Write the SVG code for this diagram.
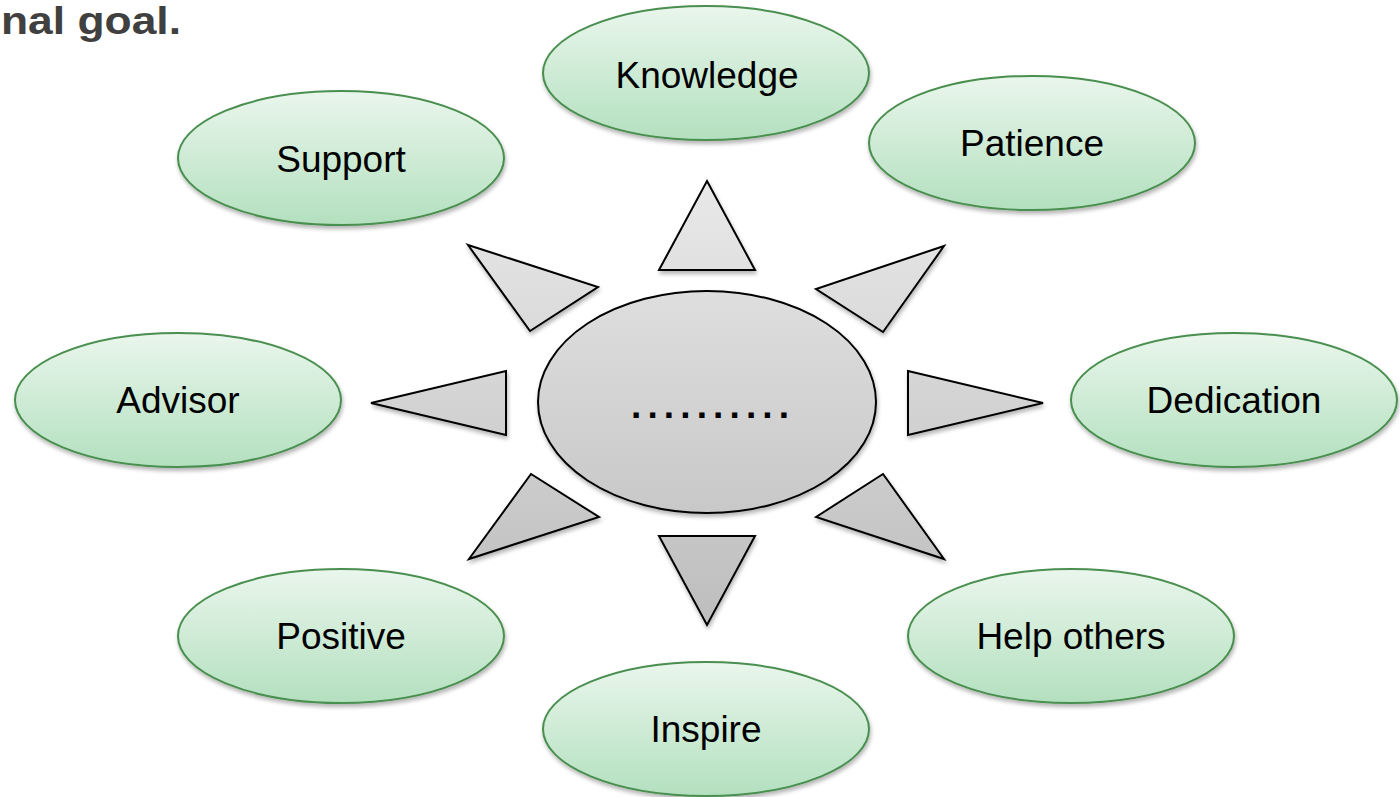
<svg xmlns="http://www.w3.org/2000/svg" width="1400" height="797" viewBox="0 0 1400 797">
<defs>
<linearGradient id="gGreen" x1="0" y1="0" x2="0" y2="1">
<stop offset="0" stop-color="#eaf6ec"/>
<stop offset="1" stop-color="#b3e0bf"/>
</linearGradient>
<linearGradient id="gGrey" gradientUnits="userSpaceOnUse" x1="0" y1="180" x2="0" y2="625">
<stop offset="0" stop-color="#e9e9e9"/>
<stop offset="1" stop-color="#bdbdbd"/>
</linearGradient>
<filter id="sh" x="-10%" y="-10%" width="125%" height="130%">
<feGaussianBlur in="SourceAlpha" stdDeviation="2"/>
<feOffset dx="1" dy="3" result="b"/>
<feComponentTransfer><feFuncA type="linear" slope="0.3"/></feComponentTransfer>
<feMerge><feMergeNode/><feMergeNode in="SourceGraphic"/></feMerge>
</filter>
<style>
.leaf{fill:url(#gGreen);stroke:#4a8f4f;stroke-width:2;filter:url(#sh)}
.ray{fill:url(#gGrey);stroke:#000;stroke-width:2;stroke-linejoin:miter;filter:url(#sh)}
.lbl{font-family:"Liberation Sans",Arial,sans-serif;font-size:37px;fill:#000;text-anchor:middle}
</style>
</defs>
<rect width="1400" height="797" fill="#fff"/>
<text x="1" y="34" font-family="'Liberation Sans',Arial,sans-serif" font-weight="bold" font-size="38" fill="#404040" textLength="180" lengthAdjust="spacingAndGlyphs">nal goal.</text>

<g id="connectors">
<polygon class="ray" points="707,181 755,270 659,270"/>
<polygon class="ray" points="944,246 816,289 883,332"/>
<polygon class="ray" points="468,245 598,287 530,331"/>
<polygon class="ray" points="908,371 1043,403 908,435"/>
<polygon class="ray" points="371,403 506,371 506,435"/>
<polygon class="ray" points="816,517 883,474 944,559"/>
<polygon class="ray" points="469,559 531,474 599,517"/>
<polygon class="ray" points="659,536 755,536 707,625"/>
</g>

<g id="center">
<ellipse cx="707" cy="402" rx="169" ry="111" fill="url(#gGrey)" stroke="#000" stroke-width="2" filter="url(#sh)"/>
<text class="lbl" x="710" y="418" font-weight="bold" textLength="158" lengthAdjust="spacing">..........</text>
</g>

<g id="knowledge"><ellipse class="leaf" cx="706" cy="73" rx="163" ry="67"/><text class="lbl" x="707" y="88">Knowledge</text></g>
<g id="patience"><ellipse class="leaf" cx="1032" cy="143" rx="163" ry="67"/><text class="lbl" x="1032" y="156">Patience</text></g>
<g id="support"><ellipse class="leaf" cx="341" cy="158" rx="163" ry="67"/><text class="lbl" x="341" y="172">Support</text></g>
<g id="advisor"><ellipse class="leaf" cx="178" cy="400" rx="163" ry="67"/><text class="lbl" x="178" y="413">Advisor</text></g>
<g id="dedication"><ellipse class="leaf" cx="1234" cy="400" rx="163" ry="67"/><text class="lbl" x="1234" y="413">Dedication</text></g>
<g id="positive"><ellipse class="leaf" cx="341" cy="636" rx="163" ry="67"/><text class="lbl" x="341" y="649">Positive</text></g>
<g id="helpothers"><ellipse class="leaf" cx="1071" cy="636" rx="163" ry="67"/><text class="lbl" x="1071" y="649">Help others</text></g>
<g id="inspire"><ellipse class="leaf" cx="706" cy="729" rx="163" ry="67"/><text class="lbl" x="706" y="742">Inspire</text></g>
</svg>
